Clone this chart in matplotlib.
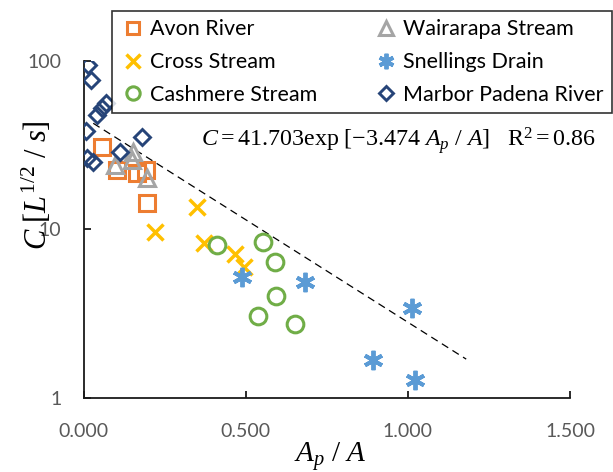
import matplotlib
matplotlib.use("Agg")
import matplotlib.pyplot as plt
from matplotlib.ticker import FixedLocator, FixedFormatter, NullLocator

plt.rcParams['font.family'] = ['Lato', 'DejaVu Sans']
plt.rcParams['mathtext.fontset'] = 'custom'
plt.rcParams['mathtext.rm'] = 'Liberation Serif'
plt.rcParams['mathtext.it'] = 'Liberation Serif:italic'
plt.rcParams['mathtext.bf'] = 'Liberation Serif:bold'

# ---- data ----
avon_x = [0.058, 0.104, 0.164, 0.193, 0.195]
avon_y = [30.9, 22.5, 21.5, 22.5, 14.3]

wair_x = [0.097, 0.148, 0.153, 0.195]
wair_y = [24.1, 25.8, 28.7, 20.1]

cross_x = [0.221, 0.349, 0.372, 0.467, 0.495]
cross_y = [9.6, 13.6, 8.33, 7.14, 5.95]

snell_x = [0.488, 0.683, 0.892, 1.012, 1.022]
snell_y = [5.24, 4.89, 1.69, 3.40, 1.27]

cash_x = [0.411, 0.553, 0.589, 0.593, 0.539, 0.652]
cash_y = [8.07, 8.44, 6.43, 4.04, 3.08, 2.73]

marb_x = [0.015, 0.022, 0.041, 0.056, 0.069, 0.008, 0.180, 0.113, 0.012, 0.030]
marb_y = [94.2, 76.7, 47.8, 52.2, 55.8, 38.4, 35.4, 28.8, 26.4, 25.2]

fit_x = [0.03, 1.18]
fit_y = [42.5, 1.70]

x_ticks = [0.0, 0.5, 1.0, 1.5]
x_labels = ["0.000", "0.500", "1.000", "1.500"]
y_ticks = [1, 10, 100]
y_labels = ["1", "10", "100"]

W, H = 613, 472
fig = plt.figure(figsize=(W / 100, H / 100), dpi=100)
ax = fig.add_axes([83.5 / W, 1 - 398 / H, (570 - 83.5) / W, (398 - 60.6) / H])

ax.set_yscale('log')
ax.set_xlim(0, 1.5)
ax.set_ylim(1, 100)

series = [
    (avon_x, avon_y, 's', '#ED7D31', 'Avon River', 11.5, 2.2),
    (wair_x, wair_y, '^', '#A5A5A5', 'Wairarapa Stream', 12, 2.2),
    (cross_x, cross_y, 'x', '#FFC000', 'Cross Stream', 12, 2.5),
    (snell_x, snell_y, (6, 2, 0), '#5B9BD5', 'Snellings Drain', 14, 2.8),
    (cash_x, cash_y, 'o', '#70AD47', 'Cashmere Stream', 12, 2.2),
    (marb_x, marb_y, 'D', '#264478', 'Marbor Padena River', 8.5, 2.1),
]
handles = {}
for xs, ys, m, c, lab, ms, mw in series:
    h, = ax.plot(xs, ys, linestyle='none', marker=m, markersize=ms,
                 markerfacecolor='none', markeredgecolor=c,
                 markeredgewidth=mw, label=lab, zorder=3)
    handles[lab] = h

ax.plot(fit_x, fit_y, color='black', linestyle=(0, (6, 4)), linewidth=0.9, zorder=2)

for s in ['top', 'right']:
    ax.spines[s].set_visible(False)
for s in ['left', 'bottom']:
    ax.spines[s].set_color('#1a1a1a')
    ax.spines[s].set_linewidth(1.3)

ax.xaxis.set_major_locator(FixedLocator(x_ticks))
ax.xaxis.set_major_formatter(FixedFormatter(x_labels))
ax.yaxis.set_major_locator(FixedLocator(y_ticks))
ax.yaxis.set_major_formatter(FixedFormatter(y_labels))
ax.yaxis.set_minor_locator(NullLocator())
ax.tick_params(axis='both', direction='in', length=5, width=1.3, color='#1a1a1a',
               labelsize=14, labelcolor='#595959')
ax.tick_params(axis='x', pad=18)
ax.tick_params(axis='y', pad=16)

ax.set_ylabel(r'$C\ [L^{\mathrm{1/2}}\ /\ s]$', fontsize=22, color='black')
ax.yaxis.set_label_coords(-0.062, 0.63)
ax.set_xlabel(r'$A_p\ /\ A$', fontsize=21, color='black')
ax.xaxis.set_label_coords(0.507, -0.124)

ax.text(398 / W, 1 - 140 / H,
        r'$C = 41.703\mathrm{exp}\ [-3.474\ A_p\ /\ A]\ \ \ \mathrm{R}^2 = 0.86$',
        transform=fig.transFigure, fontsize=17.3, ha='center', va='center')

order = ['Avon River', 'Cross Stream', 'Cashmere Stream',
         'Wairarapa Stream', 'Snellings Drain', 'Marbor Padena River']
leg = fig.legend([handles[k] for k in order], order, loc='upper left',
                 bbox_to_anchor=(112 / W, 1 - 109 / H, (612 - 112) / W, (109 - 11) / H),
                 mode='expand', ncol=2, frameon=True, fancybox=False,
                 edgecolor='black', borderaxespad=0, fontsize=15.5,
                 handlelength=1.2, handletextpad=0.2, labelspacing=0.6,
                 borderpad=0.38, markerscale=0.8)
leg.get_frame().set_linewidth(1.2)

fig.savefig('out.png', dpi=100)
